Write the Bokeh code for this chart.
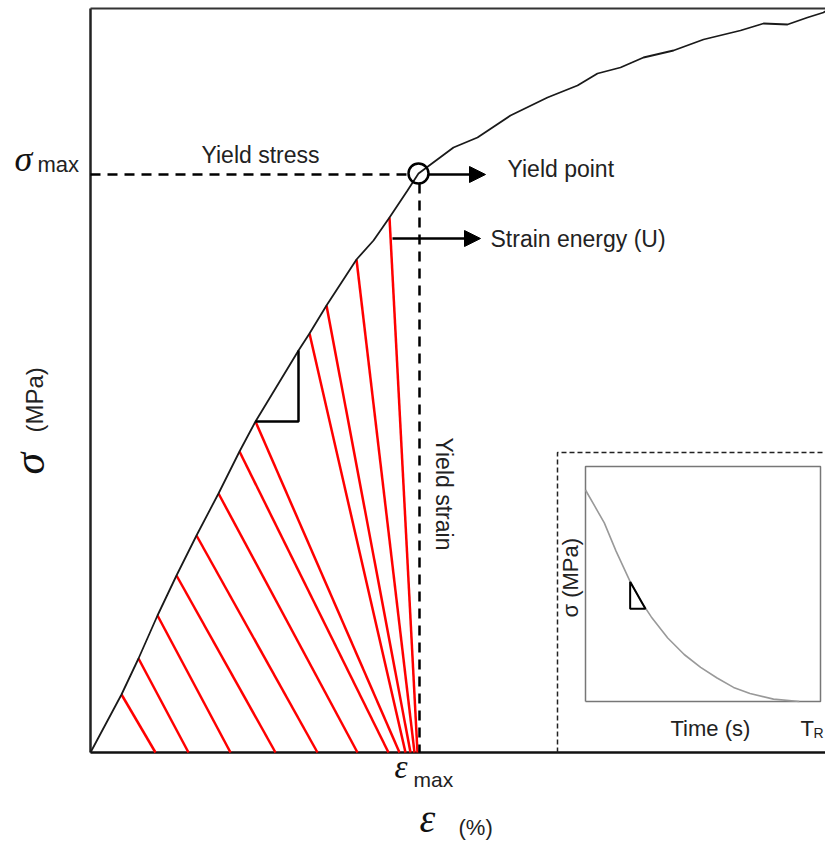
import numpy as np
from bokeh.plotting import figure
from bokeh.models import Arrow, NormalHead, Range1d
from bokeh.core.properties import value
from bokeh.embed import file_html
from bokeh.resources import INLINE

# ---- main stress-strain curve (strain %, stress MPa; schematic units) ----
strain = [0.00, 0.31, 0.48, 0.67, 0.86, 1.06, 1.28, 1.49, 1.65, 2.08, 2.19, 2.36,
          2.66, 2.83, 2.99, 3.17, 3.28, 3.63, 3.87, 4.20, 4.57, 4.87, 5.07, 5.30,
          5.53, 5.83, 6.13, 6.50, 6.73, 6.97, 7.17, 7.33, 7.36]
stress = [0.00, 0.58, 0.94, 1.37, 1.77, 2.17, 2.59, 3.01, 3.31, 4.02, 4.19, 4.47,
          4.93, 5.12, 5.35, 5.62, 5.79, 6.05, 6.15, 6.37, 6.55, 6.67, 6.79, 6.85,
          6.95, 7.02, 7.13, 7.22, 7.29, 7.28, 7.35, 7.40, 7.42]

# yield point
yield_strain = 3.28
yield_stress = 5.79

# hatching (strain energy) lines: top on curve, bottom on strain axis
hatch_top_strain = [0.31, 0.48, 0.67, 0.86, 1.06, 1.28, 1.49, 1.65, 2.19, 2.36, 2.66, 2.99]
hatch_top_stress = [0.58, 0.94, 1.37, 1.77, 2.17, 2.59, 3.01, 3.31, 4.19, 4.47, 4.93, 5.35]
hatch_bottom_strain = [0.65, 0.98, 1.40, 1.85, 2.27, 2.67, 2.98, 3.09, 3.15, 3.20, 3.24, 3.27]

# slope triangle on the curve
tri_strain = [1.65, 2.08, 2.08]
tri_stress = [3.31, 3.31, 4.02]

# axis extents
strain_end = 7.36
stress_end = 7.44

# ---- inset: stress relaxation (normalised time, normalised stress) ----
inset_time = [0.00, 0.04, 0.08, 0.13, 0.19, 0.24, 0.28, 0.35, 0.42, 0.49, 0.56, 0.63, 0.70, 0.80, 0.91]
inset_stress = [0.90, 0.83, 0.76, 0.64, 0.51, 0.42, 0.36, 0.27, 0.20, 0.145, 0.10, 0.06, 0.034, 0.01, 0.0]
inset_tri_time = [0.19, 0.19, 0.255]
inset_tri_stress = [0.51, 0.395, 0.395]

FONT = "Liberation Sans"
SERIF = "Liberation Serif"

p = figure(width=825, height=841, output_backend="svg", toolbar_location=None,
           x_axis_type=None, y_axis_type=None,
           x_range=Range1d(-0.90, 7.35), y_range=Range1d(-0.89, 7.52),
           min_border=0, min_border_left=0, min_border_right=0,
           min_border_top=0, min_border_bottom=0)
p.outline_line_color = None
p.xgrid.visible = False
p.ygrid.visible = False
p.background_fill_color = "white"
p.border_fill_color = "white"

# frame lines
p.line([0, 0], [0, stress_end], line_color="#222222", line_width=2.5)
p.line([0, strain_end], [stress_end, stress_end], line_color="#333333", line_width=2.2)
p.line([0, strain_end], [0, 0], line_color="#111111", line_width=2.5)

# inset dashed outer box
ix0, iy0, iw, ih = 4.95, 0.51, 2.35, 2.35
p.line([4.67, 4.67, strain_end], [0, 3.00, 3.00], line_color="#222222",
       line_width=1.5, line_dash="5 3")
# inset inner box
p.line([ix0, ix0 + iw, ix0 + iw, ix0, ix0], [iy0, iy0, iy0 + ih, iy0 + ih, iy0],
       line_color="#777777", line_width=1.5)
ins_x = [ix0 + t * iw for t in inset_time]
ins_y = [iy0 + s * ih for s in inset_stress]
p.line(ins_x, ins_y, line_color="#999999", line_width=1.6)
tx = [ix0 + t * iw for t in inset_tri_time]
ty = [iy0 + s * ih for s in inset_tri_stress]
p.line(tx + [tx[0]], ty + [ty[0]], line_color="black", line_width=2)

# hatching
p.segment(x0=hatch_top_strain, y0=hatch_top_stress,
          x1=hatch_bottom_strain, y1=[0] * len(hatch_bottom_strain),
          line_color="#ff0000", line_width=2.5)

# curve
p.line(strain, stress, line_color="#1a1a1a", line_width=1.8)

# triangle
p.line(tri_strain, tri_stress, line_color="black", line_width=2.5)

# dashed yield lines
p.line([0, yield_strain - 0.10], [yield_stress - 0.01, yield_stress - 0.01],
       line_color="black", line_width=2.5, line_dash="10 7")
p.line([yield_strain + 0.01, yield_strain + 0.01], [yield_stress - 0.10, 0],
       line_color="black", line_width=2.5, line_dash="10 7")

# yield point circle
p.scatter([yield_strain], [yield_stress], marker="circle", size=20,
          fill_color=None, line_color="black", line_width=2.5)

# arrows
p.add_layout(Arrow(end=NormalHead(size=16, fill_color="black", line_color="black"),
                   x_start=yield_strain + 0.10, y_start=yield_stress - 0.01,
                   x_end=3.95, y_end=yield_stress - 0.01,
                   line_color="black", line_width=2.5))
p.add_layout(Arrow(end=NormalHead(size=16, fill_color="black", line_color="black"),
                   x_start=3.02, y_start=5.14, x_end=3.90, y_end=5.14,
                   line_color="black", line_width=2.5))


def txt(x, y, s, size, font=FONT, style="normal", angle=0.0, align="left",
        baseline="alphabetic", color="#222222"):
    p.text(x=[x], y=[y], text=[s], text_font=value(font), text_font_size=size,
           text_font_style=style, angle=angle, text_align=align,
           text_baseline=baseline, text_color=color)


# labels
txt(1.70, 5.98, "Yield stress", "23px", align="center")
txt(4.17, 5.84, "Yield point", "23px")
txt(4.00, 5.14, "Strain energy (U)", "23px")
txt(3.53, 3.15, "Yield strain", "23px", angle=-np.pi / 2)

# sigma max
txt(-0.76, 5.94, "σ", "36px", font=SERIF, style="italic", color="#111111")
txt(-0.53, 5.88, "max", "22px")

# epsilon max
txt(3.04, -0.14, "ε", "33px", font=SERIF, style="italic", color="#111111")
txt(3.23, -0.27, "max", "21px")

# axis titles
txt(3.29, -0.66, "ε", "40px", font=SERIF, style="italic", color="#111111")
txt(3.68, -0.75, "(%)", "22px")
txt(-0.615, 2.78, "σ", "44px", font=SERIF, style="italic", angle=np.pi / 2, color="#111111")
txt(-0.56, 3.20, "(MPa)", "24px", angle=np.pi / 2)

# inset labels
txt(5.80, 0.24, "Time  (s)", "22px")
txt(7.10, 0.24, "T", "22px")
txt(7.23, 0.20, "R", "14px")
txt(4.80, 1.35, "σ (MPa)", "22px", angle=np.pi / 2)

open("out.html", "w").write(file_html(p, INLINE))
